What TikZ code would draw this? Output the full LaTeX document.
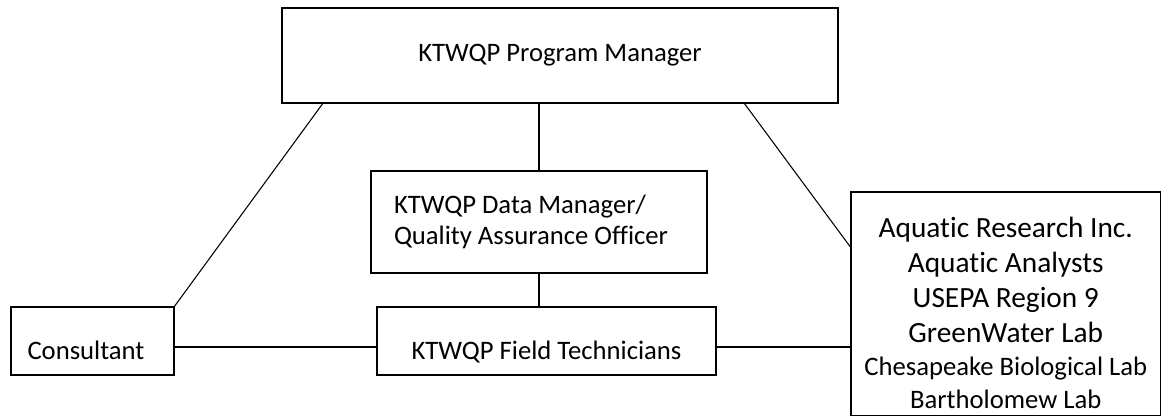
\documentclass[tikz,border=0pt]{standalone}
\usepackage{fontspec}
\setmainfont{Carlito}[Ligatures=NoCommon]
\usetikzlibrary{positioning, calc}

\begin{document}
\begin{tikzpicture}[x=0.75pt, y=-0.75pt,
    orgbox/.style={draw, rectangle, line width=1.2pt, inner sep=0pt, outer sep=0pt, font=\fontsize{20}{23.25}\selectfont},
    link/.style={line width=0.8pt}]
        \useasboundingbox (0,0) rectangle (1162,417);

        \node[orgbox, minimum width=417pt, minimum height=71.25pt, text height=40.125pt, text depth=31.125pt] (pm) at (560,55.5) {KTWQP Program Manager};

        \node[orgbox, minimum width=252pt, minimum height=76.5pt, text width=217.5pt, align=flush left, below=51pt of pm, xshift=-15.75pt] (dm) {KTWQP Data Manager/\\Quality Assurance Officer};

        \node[orgbox, minimum width=254.25pt, minimum height=51pt, text height=39.375pt, text depth=11.625pt, below=25.5pt of dm, xshift=5.625pt] (ft) {KTWQP Field Technicians};

        \node[orgbox, minimum width=122.25pt, minimum height=51pt, text width=97.5pt, align=flush left, text height=39.375pt, text depth=11.625pt, left=152.25pt of ft] (cons) {Consultant};

        \node[orgbox, font=\fontsize{22}{26.25}\selectfont, align=center, minimum width=232.1pt, minimum height=167.6pt, text height=162.4pt, text depth=5.25pt, right=101.25pt of ft, yshift=27.94pt] (aqua) {Aquatic Research Inc.\\Aquatic Analysts\\USEPA Region 9\\GreenWater Lab\\[-1.5pt]{\fontsize{20}{24}\selectfont Chesapeake Biological Lab}\\[-1.5pt]{\fontsize{20}{24}\selectfont Bartholomew Lab}};

        \coordinate (tie) at ($(cons.north east)!0.588!(cons.south east)$);

        \draw[link] ($(pm.south west)!0.074!(pm.south east)$) -- (cons.north east);
        \draw[link] ($(pm.south west)!0.831!(pm.south east)$) -- ($(aqua.north west)!0.25!(aqua.south west)$);
        \draw[link] (dm.north |- pm.south) -- (dm.north);
        \draw[link] (dm.south) -- (dm.south |- ft.north);
        \draw[link] (tie) -- (tie -| ft.west);
        \draw[link] (tie -| ft.east) -- (tie -| aqua.west);
    \end{tikzpicture}
\end{document}
